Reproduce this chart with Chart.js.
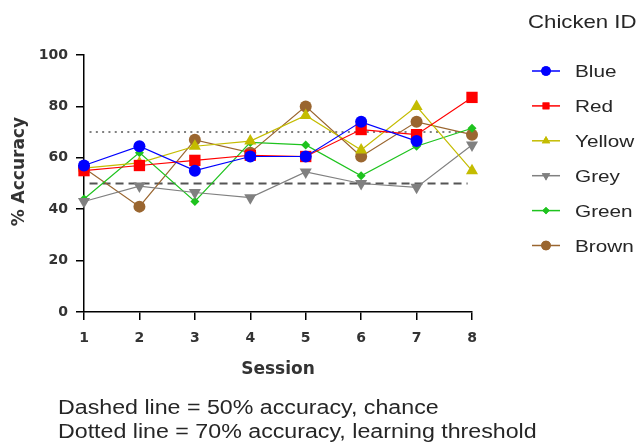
<!DOCTYPE html>
<html>
<head>
<meta charset="utf-8">
<script src="https://cdn.jsdelivr.net/npm/chart.js"></script>
<style>
  body { margin: 0; background: #fff; }
  #wrap { width: 638px; height: 448px; }
</style>
</head>
<body>
<div id="wrap"><canvas id="myChart" width="638" height="448"></canvas></div>
<script>
  // sessions on the x axis
  const sessions = [1, 2, 3, 4, 5, 6, 7, 8];
  const yTicks = [0, 20, 40, 60, 80, 100];

  // % accuracy per chicken
  const blue   = [57, 64.5, 55, 60.5, 60.5, 74, 66.5, null];
  const red    = [55, 57, 59, 61, 60.5, 71, 69, 83.5];
  const yellow = [56, 58, 64.5, 66.5, 76.5, 63, 80, 55];
  const grey   = [43, 49, 46.5, 44.5, 54.5, 50, 48.5, 65];
  const green  = [44, 62, 43, 66, 65, 53, 64.5, 71.5];
  const brown  = [56, 41, 67, 62, 80, 60.5, 74, 69];

  const chanceLevel = 50;
  const thresholdLevel = 70;
  const refSpan = [1.1, 7.92];

  const legendTitle = 'Chicken ID';
  const notes = [
    'Dashed line = 50% accuracy, chance',
    'Dotted line = 70% accuracy, learning threshold'
  ];

  function pts(vals) {
    return sessions.map((s, i) => ({x: s, y: vals[i]}));
  }

  function series(label, vals, color, style, radius, rot) {
    return {
      label: label,
      data: pts(vals),
      borderColor: color,
      backgroundColor: color,
      borderWidth: 1.2,
      pointStyle: style,
      pointRadius: radius,
      pointRotation: rot || 0,
      pointBorderWidth: 0,
      pointBackgroundColor: color,
      clip: false,
      isChicken: true
    };
  }

  function refLine(level, color, dash) {
    return {
      label: 'ref' + level,
      data: refSpan.map(x => ({x: x, y: level})),
      borderColor: color,
      borderWidth: 2,
      borderDash: dash,
      pointRadius: 0,
      clip: false
    };
  }

  const datasets = [
    series('Blue', blue, '#0000ff', 'circle', 6),
    series('Red', red, '#ff0000', 'rect', 8),
    series('Yellow', yellow, '#c4bc00', 'triangle', 7),
    series('Grey', grey, '#808080', 'triangle', 7, 180),
    series('Green', green, '#1ec31e', 'rectRot', 4.5),
    series('Brown', brown, '#9a6630', 'circle', 6),
    refLine(thresholdLevel, '#808080', [2, 4.3]),
    refLine(chanceLevel, '#555555', [8, 5])
  ];

  function stretchText(ctx, text, x, y, sx) {
    ctx.save();
    ctx.translate(x, y);
    ctx.scale(sx, 1);
    ctx.fillText(text, 0, 0);
    ctx.restore();
  }

  function marker(ctx, style, r, rot, x, y, color) {
    ctx.fillStyle = color;
    ctx.strokeStyle = color;
    if (Chart.helpers && Chart.helpers.drawPoint) {
      Chart.helpers.drawPoint(ctx, {pointStyle: style, radius: r, rotation: rot, borderWidth: 0}, x, y);
      ctx.fill();
      return;
    }
    ctx.beginPath();
    ctx.arc(x, y, r, 0, Math.PI * 2);
    ctx.fill();
  }

  const extras = {
    id: 'extras',
    afterDraw(chart) {
      const ctx = chart.ctx;
      ctx.save();
      ctx.fillStyle = '#262626';
      ctx.textBaseline = 'alphabetic';
      ctx.textAlign = 'left';
      ctx.font = '18.5px "Liberation Sans", Arial, sans-serif';
      stretchText(ctx, legendTitle, 528, 28, 1.2);

      let y = 71;
      chart.data.datasets.forEach(ds => {
        if (!ds.isChicken) return;
        ctx.strokeStyle = ds.borderColor;
        ctx.lineWidth = 1.5;
        ctx.setLineDash([]);
        ctx.beginPath();
        ctx.moveTo(532, y);
        ctx.lineTo(560, y);
        ctx.stroke();
        marker(ctx, ds.pointStyle, Math.min(ds.pointRadius, 6) * 0.8, ds.pointRotation, 546, y, ds.borderColor);
        ctx.fillStyle = '#262626';
        ctx.font = '17px "Liberation Sans", Arial, sans-serif';
        stretchText(ctx, ds.label, 575, y + 6.3, 1.22);
        y += 34.9;
      });

      ctx.font = '20px "Liberation Sans", Arial, sans-serif';
      stretchText(ctx, notes[0], 58, 414, 1.16);
      stretchText(ctx, notes[1], 58, 438, 1.16);
      ctx.restore();
    }
  };

  const tickFont = {family: 'DejaVu Sans', weight: 'bold', size: 14};
  const titleFont = {family: 'DejaVu Sans', weight: 'bold', size: 17};

  const config = {
    type: 'line',
    data: {datasets: datasets},
    options: {
      responsive: false,
      animation: false,
      devicePixelRatio: 1,
      layout: {padding: {left: 0, top: 55, right: 166, bottom: 55}},
      plugins: {legend: {display: false}, tooltip: {enabled: false}},
      scales: {
        x: {
          type: 'linear',
          min: sessions[0],
          max: sessions[sessions.length - 1],
          afterBuildTicks: s => { s.ticks = sessions.map(v => ({value: v})); },
          afterFit: s => { s.height = 81; },
          ticks: {font: tickFont, color: '#333', padding: 10},
          grid: {drawOnChartArea: false, drawTicks: true, tickLength: 8, color: '#000', lineWidth: 1.5},
          border: {color: '#000', width: 1.5},
          title: {display: true, text: 'Session', font: titleFont, color: '#333', padding: {top: 0, bottom: 13}}
        },
        y: {
          type: 'linear',
          min: 0,
          max: 100,
          afterBuildTicks: s => { s.ticks = yTicks.map(v => ({value: v})); },
          afterFit: s => { s.width = 84; },
          ticks: {font: tickFont, color: '#333', padding: 8},
          grid: {drawOnChartArea: false, drawTicks: true, tickLength: 8, color: '#000', lineWidth: 1.5},
          border: {color: '#000', width: 1.5},
          title: {display: true, text: '    % Accuracy', font: titleFont, color: '#333', padding: {top: 9, bottom: 0}}
        }
      }
    },
    plugins: [extras]
  };

  const myChart = new Chart(document.getElementById('myChart'), config);
</script>
</body>
</html>
